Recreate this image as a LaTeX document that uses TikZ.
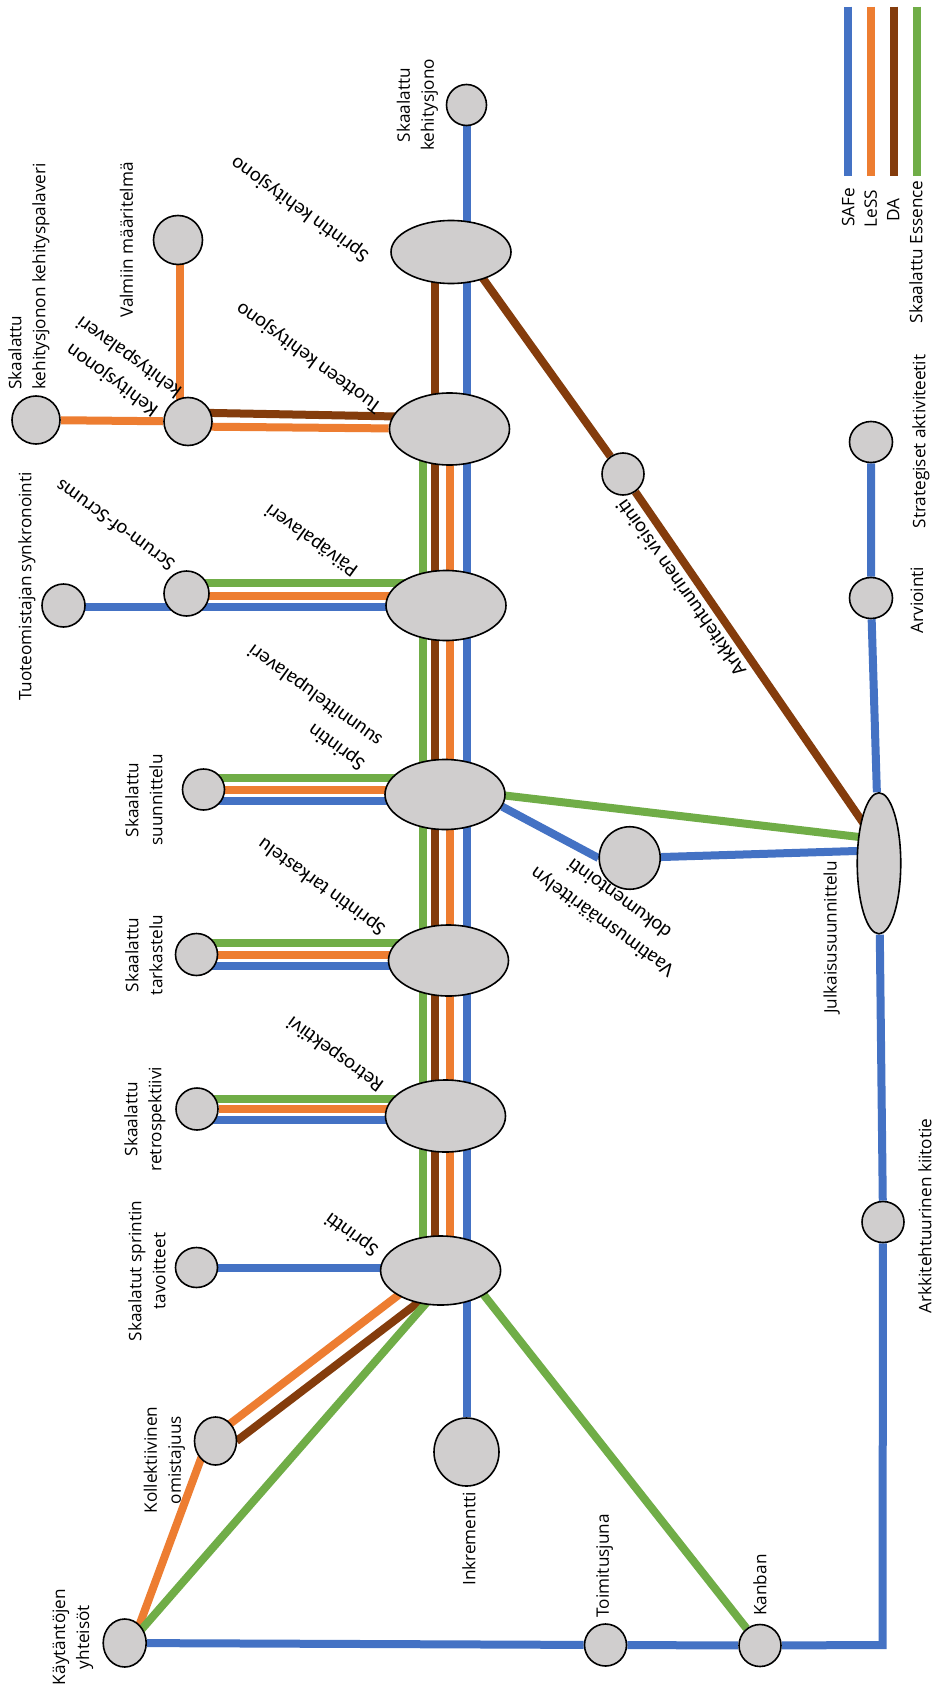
\documentclass[tikz,border=0pt]{standalone}
\usepackage{fontspec}
\setmainfont{Open Sans}
\newfontfamily\edgefont{Carlito}
\usetikzlibrary{shapes.geometric,calc,backgrounds}

\definecolor{safe}{HTML}{4472C4}
\definecolor{less}{HTML}{ED7D31}
\definecolor{da}{HTML}{843C0C}
\definecolor{ess}{HTML}{70AD47}
\definecolor{stopfill}{HTML}{D0CECE}

\begin{document}
\begin{tikzpicture}[x=1pt,y=-1pt,
  stn/.style={ellipse, draw=black, line width=1.6pt, fill=stopfill, inner sep=0pt,
              minimum width=42pt, minimum height=42pt},
  hub/.style={stn, minimum width=120pt, minimum height=70pt},
  lbl/.style={rotate=90, inner sep=0pt, align=center, font=\fontsize{17.2}{24}\selectfont},
  elbl/.style={rotate=#1, inner sep=0pt, align=center, font=\edgefont\fontsize{20.5}{29}\selectfont},
  elbl/.default=144,
  ln/.style={line width=8pt},
  lnSF/.style={ln, draw=safe},
  lnLS/.style={ln, draw=less},
  lnDA/.style={ln, draw=da},
  lnES/.style={ln, draw=ess},
]
\useasboundingbox (0,0) rectangle (935,1693);

% ---------- main line hubs ----------
\node[stn, minimum width=40pt, minimum height=41pt] (sk) at (466.5,105) {};
\node[hub, minimum height=63pt] (e1) at (451,252) {};
\node[hub, minimum height=72pt] (e2) at (449.5,429) {};
\node[hub] (e3) at (446,605.5) {};
\node[hub] (e4) at (445,794.5) {};
\node[hub, minimum height=71pt] (e5) at (448.5,960.5) {};
\node[hub, minimum height=72pt] (e6) at (445.5,1116) {};
\node[hub, minimum height=69pt] (e7) at (440.6,1270.5) {};
\node[stn, minimum width=65pt, minimum height=68pt] (ink) at (466.5,1452) {};

% ---------- side stops ----------
\node[stn, minimum size=49pt] (vm) at (178,240) {};
\node[stn, minimum size=48pt] (skkp) at (36,420) {};
\node[stn, minimum size=48pt] (kkp) at (188,421.5) {};
\node[stn, minimum size=43pt] (to) at (63.5,605.5) {};
\node[stn, minimum size=45pt] (sos) at (186.5,593.5) {};
\node[stn, minimum height=41pt] (ss) at (203.5,789.5) {};
\node[stn] (st) at (196.5,954.5) {};
\node[stn] (sr) at (197,1109) {};
\node[stn, minimum height=40pt] (sg) at (196.5,1267.5) {};
\node[stn, minimum height=48pt] (ko) at (215.5,1441) {};
\node[stn, minimum width=43pt, minimum height=48pt] (kay) at (124.7,1643) {};
\node[stn] (toim) at (605.5,1645) {};
\node[stn] (kan) at (760,1645.5) {};
\node[stn, minimum height=41pt] (akt) at (883,1222) {};
\node[stn, minimum width=43.5pt, minimum height=141pt] (julk) at (879,863.3) {};
\node[stn, minimum width=61pt, minimum height=62.5pt] (vd) at (629.7,858) {};
\node[stn] (av) at (623,474) {};
\node[stn, minimum width=43pt, minimum height=41pt] (arv) at (871,598) {};
\node[stn, minimum width=43pt, minimum height=41pt] (sa) at (871,442) {};
\coordinate (corner) at (882.5,1645);

% ---------- routes (drawn under the stops) ----------
\begin{pgfonlayer}{background}
\fill[white] (0,0) rectangle (935,1693);

% legend
\coordinate (lgSa) at (848.3,6.7);  \coordinate (lgSb) at (848.3,176);
\coordinate (lgLa) at (870.8,6.7);  \coordinate (lgLb) at (870.8,176);
\coordinate (lgDa) at (893.5,6.7);  \coordinate (lgDb) at (893.5,176);
\coordinate (lgEa) at (916.8,6.7);  \coordinate (lgEb) at (916.8,176);
\draw[lnSF] (lgSa) -- (lgSb);
\draw[lnLS] (lgLa) -- (lgLb);
\draw[lnDA] (lgDa) -- (lgDb);
\draw[lnES] (lgEa) -- (lgEb);

% trunk
\coordinate (cG) at (422.5,0);
\coordinate (cD) at (435,0);
\coordinate (cL) at (450,0);
\draw[lnES] (cG |- e2) -- (cG |- e7);
\draw[lnDA] (cD |- e1) -- (cD |- e7);
\draw[lnLS] (cL |- e2) -- (cL |- e7);
\draw[lnSF] (sk) -- (ink);

% backlog refinement branch
\draw[lnLS] (skkp) -- (kkp);
\draw[lnLS] ($(vm)+(2,0)$) -- ($(vm |- kkp)+(2,0)$);
\draw[lnDA] ($(kkp)+(0,-9)$) -- ($(e2)+(0,-11.5)$);
\draw[lnLS] ($(kkp)+(0,5)$) -- (e2);

% daily scrum branch
\draw[lnES] ($(sos)+(0,-11)$) -- ($(sos -| e3)+(0,-11)$);
\draw[lnLS] ($(sos)+(0,2)$) -- ($(sos -| e3)+(0,2)$);
\draw[lnSF] ($(to)+(0,1)$) -- ($(to -| e3)+(0,1)$);

% scaled events
\draw[lnES] ($(ss)+(0,-12)$) -- ($(ss -| e4)+(0,-12)$);
\draw[lnLS] (ss) -- (ss -| e4);
\draw[lnSF] ($(ss)+(0,11)$) -- ($(ss -| e4)+(0,11)$);
\draw[lnES] ($(st)+(0,-12)$) -- ($(st -| e5)+(0,-12)$);
\draw[lnLS] (st) -- (st -| e5);
\draw[lnSF] ($(st)+(0,11.5)$) -- ($(st -| e5)+(0,11.5)$);
\draw[lnES] ($(sr)+(0,-10.5)$) -- ($(sr -| e6)+(0,-10.5)$);
\draw[lnLS] (sr) -- (sr -| e6);
\draw[lnSF] ($(sr)+(0,10.5)$) -- ($(sr -| e6)+(0,10.5)$);
\draw[lnSF] (sg) -- (sg -| e7);

% sprint fan-out
\draw[lnLS] ($(kay)+(8,0)$) -- ($(ko)+(-8,0)$) -- ($(e7)+(-10,0)$);
\draw[lnDA] ($(ko)+(21,0)$) -- ($(e7)+(19.5,0)$);
\draw[lnES] ($(kay)+(5,0)$) -- ($(e7)+(14,0)$);
\draw[lnES] ($(e7)+(24,0)$) -- (kan);

% release planning
\draw[lnDA] ($(e1)+(13,0)$) -- (av) -- ($(julk)+(12,0)$);
\draw[lnES] ($(e4)+(0,-6)$) -- ($(julk)+(0,-24)$);
\draw[lnSF] (e4.-12) -- (vd.west);
\draw[lnSF] (vd) -- ($(julk)+(0,-13)$);
\draw[lnSF] (sa) -- (arv) -- (julk) -- (akt) -- (corner) -- (kan) -- (toim) -- (kay);
\end{pgfonlayer}

% ---------- legend labels ----------
\node[lbl] (tSF) at (848.3,207.5) {SAFe};
\node[lbl] (tLS) at (870.8,208.3) {LeSS};
\node[lbl] (tDA) at (893.3,210) {DA};
\node[lbl] (tES) at (916,251.7) {Skaalattu Essence};

% ---------- stop labels ----------
\node[lbl] (lsk) at (417.5,105) {Skaalattu\\kehitysjono};
\node[lbl] (lvm) at (126.5,240) {Valmiin määritelmä};
\node[lbl, anchor=west, align=left] (lskkp) at (29,390) {Skaalattu\\kehitysjonon kehityspalaveri};
\node[lbl] (lto) at (27,586.5) {Tuoteomistajan synkronointi};
\node[lbl] (lss) at (144,800) {Skaalattu\\suunnittelu};
\node[lbl] (lst) at (144,955) {Skaalattu\\tarkastelu};
\node[lbl] (lsr) at (145,1119) {Skaalattu\\retrospektiivi};
\node[lbl] (lsg) at (147,1271) {Skaalatut sprintin\\tavoitteet};
\node[lbl] (lko) at (164.5,1460) {Kollektiivinen\\omistajuus};
\node[lbl] (lkay) at (73,1637) {Käytäntöjen\\yhteisöt};
\node[lbl] (link) at (469,1539) {Inkrementti};
\node[lbl] (ltoim) at (604.6,1565.8) {Toimitusjuna};
\node[lbl] (lkan) at (760,1585) {Kanban};
\node[lbl] (lakt) at (925,1216) {Arkkitehtuurinen kiitotie};
\node[lbl] (ljulk) at (831.7,937.5) {Julkaisusuunnittelu};
\node[lbl] (larv) at (917,600) {Arviointi};
\node[lbl] (lsa) at (921,441.5) {Strategiset aktiviteetit};

% ---------- event labels ----------
\node[elbl] (le1) at (300,209) {Sprintin kehitysjono};
\node[elbl] (le2) at (309,357.5) {Tuotteen kehitysjono};
\node[elbl] (lkkp) at (120.8,368) {Kehitysjonon\\kehityspalaveri};
\node[elbl] (lsos) at (115,525.8) {Scrum-of-Scrums};
\node[elbl] (le3) at (311.8,540) {Päiväpalaveri};
\node[elbl, anchor=west, align=left] (le4) at (371.7,754.2) {Sprintin\\suunnittelupalaveri};
\node[elbl] (le5) at (322,886.5) {Sprintin tarkastelu};
\node[elbl] (le6) at (335.7,1054) {Retrospektiivi};
\node[elbl] (le7) at (352,1234) {Sprintti};
\node[elbl] (lvd) at (610.4,911.2) {Vaatimusmäärittelyn\\dokumentointi};
\node[elbl=125] (lav) at (680.8,588.3) {Arkkitehtuurinen visiointi};
\end{tikzpicture}
\end{document}
